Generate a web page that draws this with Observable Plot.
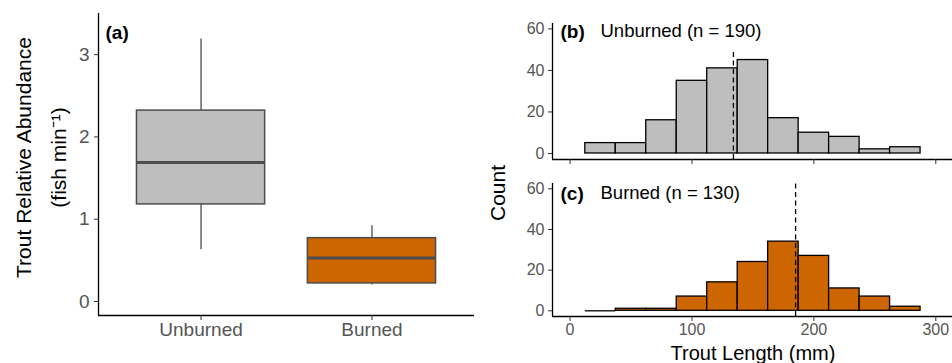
<!DOCTYPE html>
<html><head><meta charset="utf-8">
<script src="https://cdn.jsdelivr.net/npm/d3@7"></script>
<script src="https://cdn.jsdelivr.net/npm/@observablehq/plot@0.6"></script>
<style>
body{margin:0;background:#fff;}
#chart{position:relative;width:952px;height:363px;overflow:hidden;background:#fff;}
</style>
</head><body><div id="chart"></div>
<script>
// ---- Panel (a): boxplot data ----
const groups = ["Unburned", "Burned"];
const groupColors = ["#BEBEBE", "#CD6600"];
const whiskerLow = [0.63, 0.20];
const q1 = [1.18, 0.22];
const median = [1.69, 0.53];
const q3 = [2.32, 0.77];
const whiskerHigh = [3.19, 0.92];
const abundanceTicks = [0, 1, 2, 3];

// ---- Panels (b), (c): histograms ----
const binStarts = [12.5, 37.5, 62.5, 87.5, 112.5, 137.5, 162.5, 187.5, 212.5, 237.5, 262.5];
const binWidth = 25;
const unburnedCounts = [5, 5, 16, 35, 41, 45, 17, 10, 8, 2, 3];
const burnedCounts = [0, 1, 1, 7, 14, 24, 34, 27, 11, 7, 2];
const meanLengths = [134, 185];
const meanLineTop = [48.6, 62.6];
const panelTags = ["(b)", "(c)"];
const panelTitles = ["Unburned (n = 190)", "Burned (n = 130)"];
const histColors = ["#BEBEBE", "#CD6600"];
const lengthTicks = [0, 100, 200, 300];
const countTicks = [0, 20, 40, 60];

const FONT = '"Liberation Sans", Arial, Helvetica, sans-serif';
const TICKGREY = "#555555";
const chart = document.getElementById("chart");

function baseStyle(left, top) {
  return {position: "absolute", left: left + "px", top: top + "px", overflow: "visible",
          background: "transparent", fontFamily: FONT, fontSize: "16px", color: "black", maxWidth: "none"};
}

// ---------- Left plot ----------
const boxRows = groups.map((g, i) => ({
  group: g, pos: i + 1, color: groupColors[i],
  lo: whiskerLow[i], q1: q1[i], med: median[i], q3: q3[i], hi: whiskerHigh[i]
}));
const halfBox = 0.375;
const xDomA = [0.4, 2.6], yDomA = [-0.17, 3.5];
const boxStroke = "#4d4d4d";

const left = Plot.plot({
  width: 480, height: 363,
  marginLeft: 98, marginRight: 6, marginTop: 13, marginBottom: 48,
  x: {domain: xDomA}, y: {domain: yDomA},
  color: {type: "identity"},
  style: baseStyle(0, 0),
  marks: [
    Plot.ruleX(boxRows, {x: "pos", y1: "lo", y2: "q1", stroke: boxStroke, strokeWidth: 1.3}),
    Plot.ruleX(boxRows, {x: "pos", y1: "q3", y2: "hi", stroke: boxStroke, strokeWidth: 1.3}),
    Plot.rect(boxRows, {x1: d => d.pos - halfBox, x2: d => d.pos + halfBox, y1: "q1", y2: "q3",
      fill: "color", stroke: boxStroke, strokeWidth: 1.5}),
    Plot.ruleY(boxRows, {y: "med", x1: d => d.pos - halfBox, x2: d => d.pos + halfBox,
      stroke: boxStroke, strokeWidth: 3}),
    Plot.ruleX([xDomA[0]], {stroke: "black", strokeWidth: 1.3}),
    Plot.ruleY([yDomA[0]], {stroke: "black", strokeWidth: 1.3}),
    Plot.axisX({ticks: [1, 2], tickFormat: d => groups[d - 1], tickSize: 5, tickPadding: 2,
      stroke: "#333", fill: TICKGREY, fontSize: 19, label: null}),
    Plot.axisY({ticks: abundanceTicks, tickFormat: d => String(d), tickSize: 4, tickPadding: 5,
      stroke: "#333", fill: TICKGREY, fontSize: 19, label: null}),
    Plot.text(["Trout Relative Abundance"], {frameAnchor: "left", textAnchor: "middle", lineAnchor: "middle",
      rotate: -90, dx: -74.5, dy: -7, fontSize: 21, fill: "black"}),
    Plot.text(["(fish min\u207B\u00B9)"], {frameAnchor: "left", textAnchor: "middle", lineAnchor: "middle",
      rotate: -90, dx: -39, dy: -7, fontSize: 21, fill: "black"}),
    Plot.text(["(a)"], {frameAnchor: "top-left", lineAnchor: "middle", textAnchor: "start",
      dx: 7, dy: 19.5, fontSize: 19, fontWeight: "bold", fill: "black"})
  ]
});
chart.appendChild(left);

// ---------- Right plots ----------
const xDomR = [-14.4, 313.7];
function hist(k) {
  const counts = k === 0 ? unburnedCounts : burnedCounts;
  const rows = binStarts.map((s, i) => ({x1: s, x2: s + binWidth, count: counts[i]}));
  const top = k === 0 ? 0 : 170;
  const height = k === 0 ? 172 : 193;
  const marginTop = k === 0 ? 23 : 13;
  const marginBottom = k === 0 ? 13 : 47;
  const yDom = k === 0 ? [-2.9, 62.6] : [-2.8, 62.6];
  const marks = [
    Plot.rectY(rows, {x1: "x1", x2: "x2", y: "count", fill: histColors[k], stroke: "black", strokeWidth: 1.3}),
    Plot.ruleY(rows.filter(d => d.count === 0), {y: "count", x1: "x1", x2: "x2", stroke: "black", strokeWidth: 1.3}),
    Plot.ruleX([meanLengths[k]], {y1: yDom[0], y2: meanLineTop[k], stroke: "black", strokeWidth: 1.3, strokeDasharray: "5,3.5"}),
    Plot.ruleX([xDomR[0]], {stroke: "black", strokeWidth: 1.3}),
    Plot.ruleY([yDom[0]], {stroke: "black", strokeWidth: 1.3}),
    Plot.axisY({ticks: countTicks, tickSize: 4, tickPadding: 4, stroke: "#333", fill: TICKGREY, fontSize: 16, label: null}),
    Plot.text([panelTags[k]], {frameAnchor: "top-left", lineAnchor: "middle", textAnchor: "start",
      dx: 8, dy: k === 0 ? 8 : 10, fontSize: 19, fontWeight: "bold", fill: "black"}),
    Plot.text([panelTitles[k]], {frameAnchor: "top-left", lineAnchor: "middle", textAnchor: "start",
      dx: 48, dy: k === 0 ? 8 : 10, fontSize: 18.5, fill: "black"})
  ];
  if (k === 0) {
    marks.push(Plot.axisX({ticks: lengthTicks, tickSize: 5, stroke: "#333", fill: "none", label: null}));
  } else {
    marks.push(Plot.axisX({ticks: lengthTicks, tickSize: 5, tickPadding: 2, stroke: "#333", fill: TICKGREY, fontSize: 16, label: null}));
    marks.push(Plot.text(["Trout Length (mm)"], {frameAnchor: "bottom", lineAnchor: "bottom", dx: 0.5, dy: 43, fontSize: 20, fill: "black"}));
    marks.push(Plot.text(["Count"], {frameAnchor: "left", textAnchor: "middle", lineAnchor: "middle",
      rotate: -90, dx: -54.5, dy: -57, fontSize: 21, fill: "black"}));
  }
  return Plot.plot({
    width: 472, height,
    marginLeft: 72, marginRight: 0, marginTop, marginBottom,
    x: {domain: xDomR}, y: {domain: yDom},
    style: baseStyle(480, top),
    marks
  });
}
chart.appendChild(hist(0));
chart.appendChild(hist(1));
</script>
</body></html>
